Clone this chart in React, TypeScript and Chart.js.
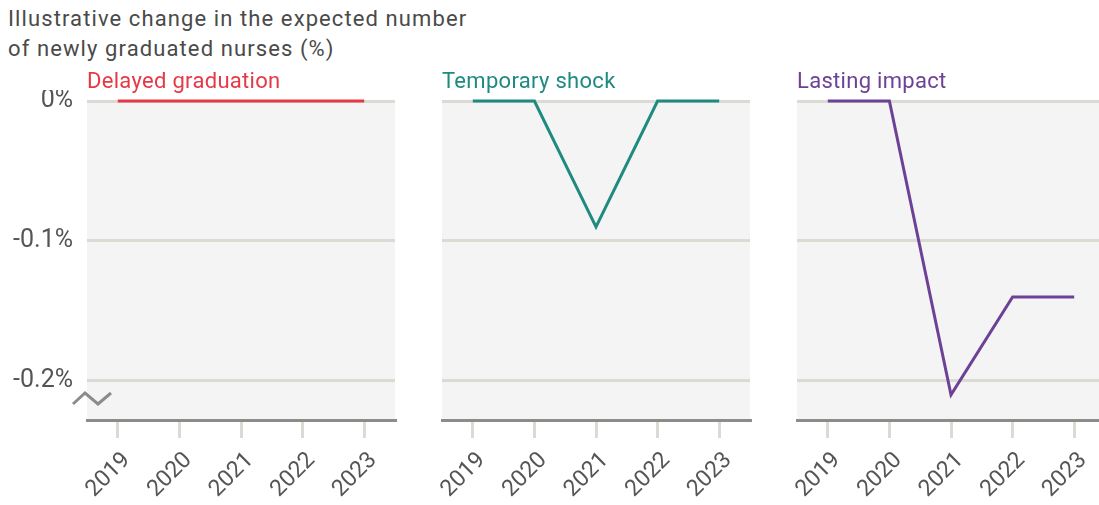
import React, { useEffect, useRef } from "react";
import { Chart, registerables } from "chart.js";

Chart.register(...registerables);

const years = ["2019", "2020", "2021", "2022", "2023"];
const delayedGraduation = [0, 0, 0, 0, 0];
const temporaryShock = [0, 0, -0.09, 0, 0];
const lastingImpact = [0, 0, -0.21, -0.14, -0.14];
const yTickValues = [0, -0.1, -0.2];
const yMin = -0.228;
const yMax = 0;

const FONT = "Roboto, 'Noto Sans', sans-serif";

const panels = [
  { title: "Delayed graduation", data: delayedGraduation, color: "#e63946", left: 87, showY: true },
  { title: "Temporary shock", data: temporaryShock, color: "#1f8a80", left: 442, showY: false },
  { title: "Lasting impact", data: lastingImpact, color: "#6c4196", left: 797, showY: false },
];

const CANVAS_W = 400;
const CANVAS_H = 415;
const CANVAS_TOP = 90;
const Y_AXIS_W = 87;

function Panel({ data, color, left, showY }: { data: number[]; color: string; left: number; showY: boolean }) {
  const ref = useRef<HTMLCanvasElement | null>(null);
  useEffect(() => {
    if (!ref.current) return;
    const bgPlugin = {
      id: "bg",
      beforeDraw(chart: any) {
        const { ctx, chartArea } = chart;
        ctx.save();
        ctx.fillStyle = "#f4f4f4";
        ctx.fillRect(chartArea.left, chartArea.top, chartArea.right - chartArea.left, chartArea.bottom - chartArea.top);
        ctx.restore();
      },
      afterDraw(chart: any) {
        if (!showY) return;
        const { ctx, chartArea } = chart;
        const l = chartArea.left;
        const b = chartArea.bottom;
        ctx.save();
        ctx.strokeStyle = "#8c8c8c";
        ctx.lineWidth = 3;
        ctx.beginPath();
        ctx.moveTo(l - 14, b - 16);
        ctx.lineTo(l - 2, b - 27);
        ctx.lineTo(l + 11, b - 16);
        ctx.lineTo(l + 24, b - 27);
        ctx.stroke();
        ctx.restore();
      },
    };
    const chart = new Chart(ref.current, {
      type: "line",
      data: {
        labels: years,
        datasets: [
          {
            data,
            borderColor: color,
            borderWidth: 3,
            pointRadius: 0,
            tension: 0,
            fill: false,
            clip: false as any,
          },
        ],
      },
      options: {
        animation: false,
        responsive: false,
        devicePixelRatio: 1,
        events: [],
        layout: { padding: { top: 11, right: 5, left: 0, bottom: 0 } },
        plugins: { legend: { display: false }, tooltip: { enabled: false }, title: { display: false } },
        scales: {
          x: {
            type: "category",
            offset: true,
            grid: {
              drawOnChartArea: false,
              drawTicks: true,
              tickLength: 18,
              color: "#dcdad3",
              lineWidth: 3,
              offset: false,
            },
            border: { display: true, color: "#8c8c8c", width: 3 },
            ticks: {
              minRotation: 45,
              maxRotation: 45,
              padding: 9,
              labelOffset: 9,
              color: "#555555",
              font: { family: FONT, size: 23 },
            },
            afterFit(scale: any) {
              scale.height = 85;
              scale.paddingLeft = 0;
              scale.paddingRight = 0;
            },
          },
          y: {
            type: "linear",
            min: yMin,
            max: yMax,
            grid: { color: "#dcdad3", lineWidth: 3, drawTicks: false },
            border: { display: false },
            afterBuildTicks(scale: any) {
              scale.ticks = yTickValues.map((v) => ({ value: v }));
            },
            ticks: {
              display: showY,
              padding: 14,
              color: "#555555",
              font: { family: FONT, size: 25 },
              callback: (v: any) => (v === 0 ? "0%" : `${Number(v).toFixed(1)}%`),
            },
            afterFit(scale: any) {
              scale.width = Y_AXIS_W;
              scale.paddingTop = 0;
              scale.paddingBottom = 0;
            },
          },
        },
      },
      plugins: [bgPlugin],
    });
    return () => chart.destroy();
  }, [data, color, showY]);
  return (
    <canvas
      ref={ref}
      width={CANVAS_W}
      height={CANVAS_H}
      style={{ position: "absolute", left: left - Y_AXIS_W, top: CANVAS_TOP, width: CANVAS_W, height: CANVAS_H }}
    />
  );
}

export default function App() {
  return (
    <div
      style={{
        position: "absolute",
        left: 0,
        top: 0,
        width: 1099,
        height: 505,
        overflow: "hidden",
        background: "#ffffff",
        fontFamily: FONT,
      }}
    >
      <div
        style={{
          position: "absolute",
          left: 8,
          top: 4,
          fontSize: 22,
          lineHeight: "30px",
          letterSpacing: "1.1px",
          color: "#4a4a4a",
          whiteSpace: "nowrap",
        }}
      >
        Illustrative change in the expected number
        <br />
        of newly graduated nurses (%)
      </div>
      {panels.map((p) => (
        <React.Fragment key={p.title}>
          <Panel data={p.data} color={p.color} left={p.left} showY={p.showY} />
          <div
            style={{
              position: "absolute",
              left: p.left,
              top: 66,
              fontSize: 22,
              lineHeight: "30px",
              letterSpacing: "0.3px",
              color: p.color,
              whiteSpace: "nowrap",
            }}
          >
            {p.title}
          </div>
        </React.Fragment>
      ))}
    </div>
  );
}
